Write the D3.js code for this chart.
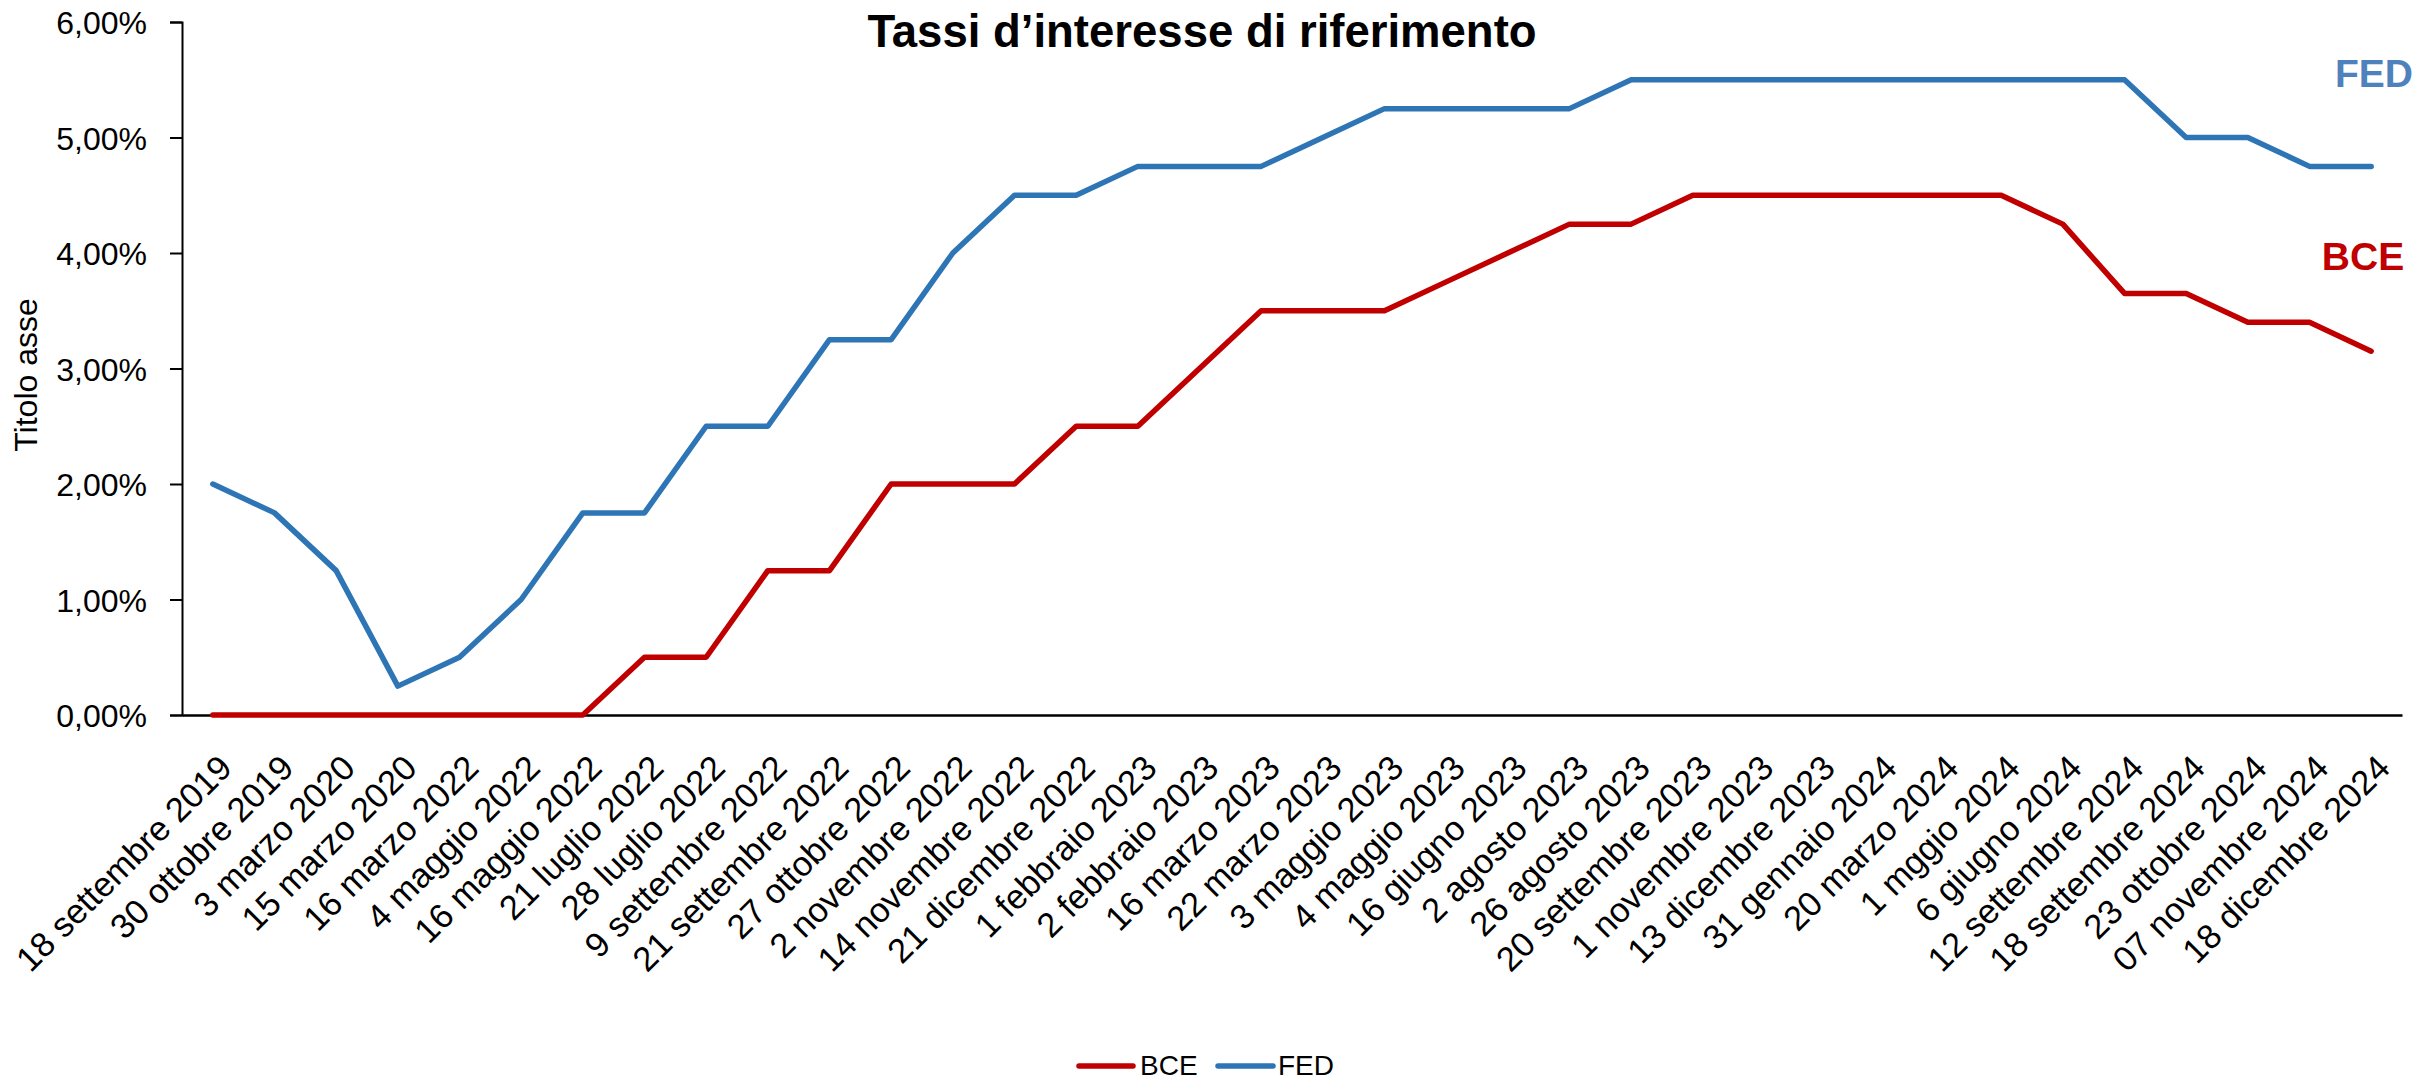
<!DOCTYPE html>
<html>
<head>
<meta charset="utf-8">
<script src="https://cdn.jsdelivr.net/npm/d3@7"></script>
<style>
  html, body { margin: 0; padding: 0; background: #fff; }
  svg { display: block; }
  text { font-family: "Liberation Sans", Arial, sans-serif; }
</style>
</head>
<body>
<svg id="chart" width="2433" height="1081"></svg>
<script>
// ---- data ----
const categories = [
  "18 settembre 2019", "30 ottobre 2019", "3 marzo 2020", "15 marzo 2020",
  "16 marzo 2022", "4 maggio 2022", "16 maggio 2022", "21 luglio 2022",
  "28 luglio 2022", "9 settembre 2022", "21 settembre 2022", "27 ottobre 2022",
  "2 novembre 2022", "14 novembre 2022", "21 dicembre 2022", "1 febbraio 2023",
  "2 febbraio 2023", "16 marzo 2023", "22 marzo 2023", "3 maggio 2023",
  "4 maggio 2023", "16 giugno 2023", "2 agosto 2023", "26 agosto 2023",
  "20 settembre 2023", "1 novembre 2023", "13 dicembre 2023", "31 gennaio 2024",
  "20 marzo 2024", "1 mggio 2024", "6 giugno 2024", "12 settembre 2024",
  "18 settembre 2024", "23 ottobre 2024", "07 novembre 2024", "18 dicembre 2024"
];
const bce = [
  0, 0, 0, 0, 0, 0, 0, 0.50,
  0.50, 1.25, 1.25, 2.00, 2.00, 2.00, 2.50, 2.50,
  3.00, 3.50, 3.50, 3.50, 3.75, 4.00, 4.25, 4.25,
  4.50, 4.50, 4.50, 4.50, 4.50, 4.50, 4.25, 3.65,
  3.65, 3.40, 3.40, 3.15
];
const fed = [
  2.00, 1.75, 1.25, 0.25, 0.50, 1.00, 1.75, 1.75,
  2.50, 2.50, 3.25, 3.25, 4.00, 4.50, 4.50, 4.75,
  4.75, 4.75, 5.00, 5.25, 5.25, 5.25, 5.25, 5.50,
  5.50, 5.50, 5.50, 5.50, 5.50, 5.50, 5.50, 5.50,
  5.00, 5.00, 4.75, 4.75
];
const yTicks = [0, 1, 2, 3, 4, 5, 6];
const seriesNames = ["BCE", "FED"];
const titleText = "Tassi d\u2019interesse di riferimento";
const yAxisTitle = "Titolo asse";

// ---- layout ----
const colors = { BCE: "#C00000", FED: "#2E75B6" };
const labelColors = { BCE: "#C00000", FED: "#4F81BD" };
const svg = d3.select("#chart");

const x = d3.scaleBand().domain(categories).range([182, 2402]).paddingInner(0).paddingOuter(0);
const y = d3.scaleLinear().domain([0, 6]).range([715, 22]);
const cx = d => x(d) + x.bandwidth() / 2;

const it = d3.formatLocale({ decimal: ",", thousands: ".", grouping: [3], currency: ["€", ""] });
const fmt = v => it.format(".2f")(v) + "%";

// title
svg.append("text")
  .attr("x", 1202).attr("y", 47)
  .attr("text-anchor", "middle")
  .style("font-weight", "bold").style("font-size", "45.5px").style("fill", "#000")
  .text(titleText);

// y axis
const yAxis = svg.append("g").attr("transform", "translate(182,0)")
  .call(d3.axisLeft(y).tickValues(yTicks).tickSize(12).tickPadding(0).tickFormat(fmt));
yAxis.select(".domain").attr("stroke", "#000").attr("stroke-width", 2);
yAxis.selectAll(".tick line").attr("stroke", "#000").attr("stroke-width", 2);
yAxis.selectAll(".tick text")
  .attr("x", -35).attr("dy", null).attr("y", 11.5)
  .style("font-size", "32px").style("font-family", "'Liberation Sans', Arial, sans-serif")
  .style("fill", "#000");

// y axis title
svg.append("text")
  .attr("transform", "translate(37,375) rotate(-90)")
  .attr("text-anchor", "middle")
  .style("font-size", "32px").style("fill", "#000")
  .text(yAxisTitle);

// x axis
const xAxis = svg.append("g").attr("transform", "translate(0,715)")
  .call(d3.axisBottom(x).tickSize(0).tickSizeOuter(0));
xAxis.select(".domain").attr("stroke", "#000").attr("stroke-width", 2.5);
xAxis.selectAll(".tick text")
  .attr("transform", "translate(21,55) rotate(-45)")
  .attr("x", 0).attr("y", 0).attr("dy", null)
  .attr("text-anchor", "end")
  .style("font-size", "34.5px").style("font-family", "'Liberation Sans', Arial, sans-serif")
  .style("fill", "#000");

// lines
const data = { BCE: bce, FED: fed };
const line = d3.line().x((d, i) => cx(categories[i])).y(d => y(d));
["FED", "BCE"].forEach(name => {
  svg.append("path")
    .datum(data[name])
    .attr("d", line)
    .attr("fill", "none")
    .attr("stroke", colors[name])
    .attr("stroke-width", 5.5)
    .attr("stroke-linejoin", "round")
    .attr("stroke-linecap", "round");
});

// end annotations
svg.append("text").attr("x", 2374).attr("y", 87).attr("text-anchor", "middle")
  .style("font-weight", "bold").style("font-size", "39px")
  .style("fill", labelColors.FED).text("FED");
svg.append("text").attr("x", 2363).attr("y", 270).attr("text-anchor", "middle")
  .style("font-weight", "bold").style("font-size", "39px")
  .style("fill", labelColors.BCE).text("BCE");

// legend
const legendItems = [
  { name: "BCE", x1: 1079, x2: 1133, tx: 1140 },
  { name: "FED", x1: 1218, x2: 1273, tx: 1278 }
];
const lg = svg.append("g");
legendItems.forEach(it2 => {
  lg.append("line").attr("x1", it2.x1).attr("x2", it2.x2).attr("y1", 1066).attr("y2", 1066)
    .attr("stroke", colors[it2.name]).attr("stroke-width", 5.5).attr("stroke-linecap", "round");
  lg.append("text").attr("x", it2.tx).attr("y", 1075)
    .style("font-size", "28px").style("fill", "#000").text(it2.name);
});
</script>
</body>
</html>
